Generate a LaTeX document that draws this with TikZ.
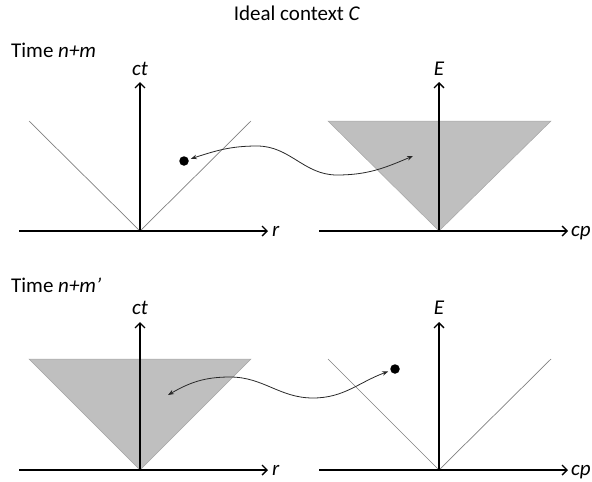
\documentclass[tikz,border=0pt]{standalone}
\usepackage{fontspec}
\setmainfont{Carlito}
\usetikzlibrary{arrows.meta}
\definecolor{conefill}{RGB}{191,191,191}
\definecolor{coneline}{RGB}{128,128,128}
\definecolor{curvecol}{RGB}{40,40,40}
\begin{document}
\begin{tikzpicture}[x=1pt,y=-1pt,
  axis/.style={line width=1.6pt,-{Straight Barb[length=5pt,width=10pt,line width=1.4pt]}},
  coneln/.style={draw=coneline,line width=0.7pt},
  conearea/.style={fill=conefill,draw=coneline!70,line width=0.5pt},
  lbl/.style={font=\fontsize{21}{25}\selectfont\itshape,inner sep=0pt},
  ttl/.style={font=\fontsize{21}{25}\selectfont,inner sep=0pt},
  dotn/.style={circle,fill=black,minimum size=9.5pt,inner sep=0pt,outer sep=2.5pt},
  wave/.style={draw=curvecol,line width=0.8pt,{Stealth[length=6pt,width=4.5pt]}-{Stealth[length=6pt,width=4.5pt]}}]
\useasboundingbox (0,0) rectangle (592,482);

% titles
\node[ttl,anchor=base] (title) at (297,20) {Ideal context \textit{C}};
\node[ttl,anchor=base west] (t1) at (11,57) {Time \textit{n+m}};
\node[ttl,anchor=base west] (t2) at (11,292) {Time \textit{n+m’}};

% ---------- top panel ----------
\coordinate (oA) at (140,231);
\coordinate (oB) at (439,231);
% left: light cone lines
\draw[coneln] (29,121) -- (oA) -- (251,121);
% right: shaded cone
\fill[conearea] (328,121) -- (oB) -- (551,121) -- cycle;
% axes
\coordinate (axAl) at (19,231);
\coordinate (axAr) at (268,231);
\coordinate (axAt) at (140,82);
\coordinate (axBl) at (319,231);
\coordinate (axBr) at (568,231);
\coordinate (axBt) at (439,82);
\draw[axis] (axAl) -- (axAr);
\draw[axis] (oA) -- (axAt);
\draw[axis] (axBl) -- (axBr);
\draw[axis] (oB) -- (axBt);
\node[lbl,anchor=base west] (rA) at (272,236) {r};
\node[lbl,anchor=base] (ctA) at (140,75) {ct};
\node[lbl,anchor=base west] (cpB) at (571,236) {cp};
\node[lbl,anchor=base] (EB) at (439,75) {E};
% particle and wave
\node[dotn] (dA) at (184,161) {};
\coordinate (wA) at (413,156);
\draw[wave] (dA) to[out=18,in=180] (257,146) to[out=0,in=180] (337,175) to[out=0,in=203] (wA);

% ---------- bottom panel ----------
\coordinate (oC) at (140,470);
\coordinate (oD) at (439,470);
\fill[conearea] (29,359) -- (oC) -- (251,359) -- cycle;
\draw[coneln] (328,359) -- (oD) -- (551,359);
\coordinate (axCl) at (19,470);
\coordinate (axCr) at (268,470);
\coordinate (axCt) at (140,322);
\coordinate (axDl) at (319,470);
\coordinate (axDr) at (568,470);
\coordinate (axDt) at (439,322);
\draw[axis] (axCl) -- (axCr);
\draw[axis] (oC) -- (axCt);
\draw[axis] (axDl) -- (axDr);
\draw[axis] (oD) -- (axDt);
\node[lbl,anchor=base west] (rC) at (272,475) {r};
\node[lbl,anchor=base] (ctC) at (140,314) {ct};
\node[lbl,anchor=base west] (cpD) at (571,475) {cp};
\node[lbl,anchor=base] (ED) at (439,314) {E};
\node[dotn] (dD) at (395,369) {};
\coordinate (wC) at (168,395);
\draw[wave] (wC) to[out=30,in=180] (230,377) to[out=0,in=180] (313,398) to[out=0,in=200] (dD);
\end{tikzpicture}
\end{document}
